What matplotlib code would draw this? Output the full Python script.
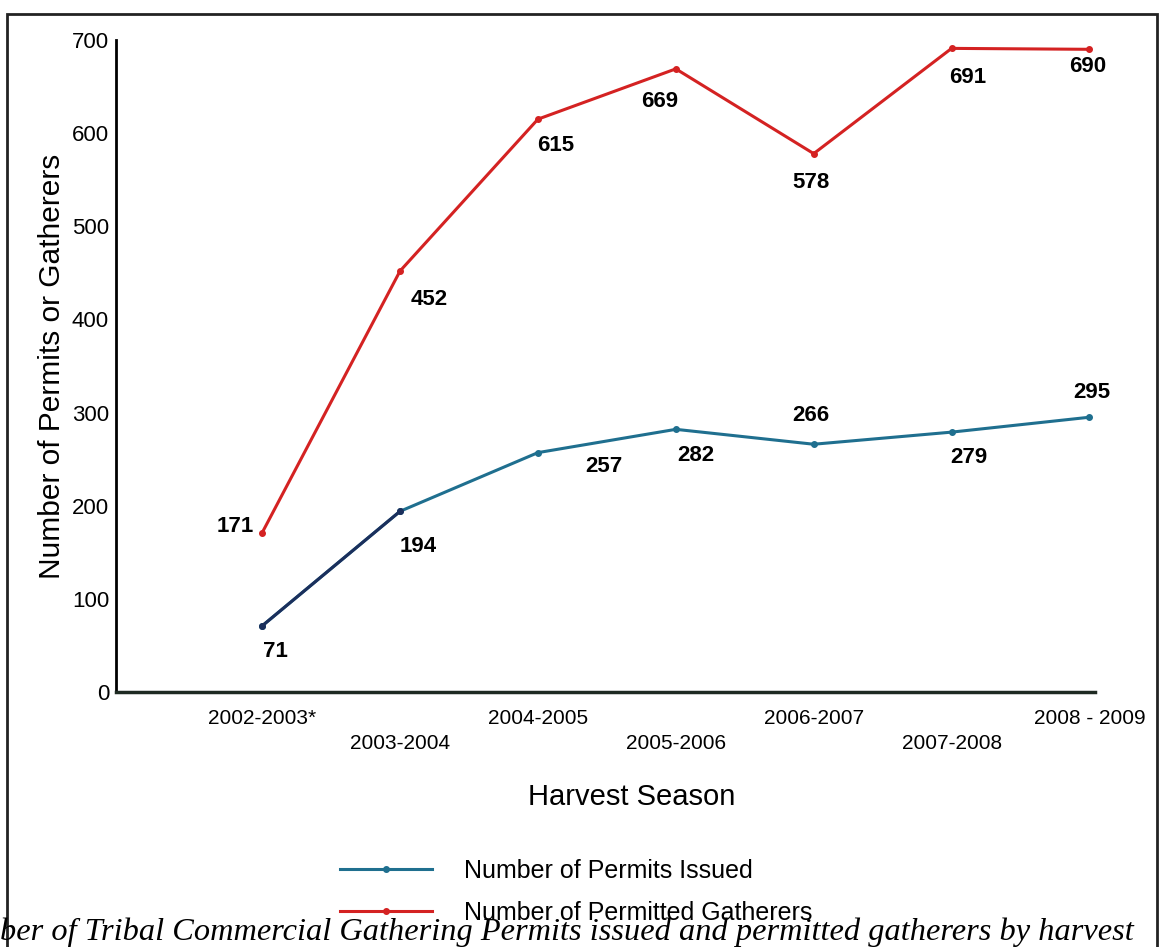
import matplotlib.pyplot as plt
from matplotlib.patches import Rectangle

plt.rcParams['font.family'] = ['Liberation Sans', 'DejaVu Sans']

seasons = ["2002-2003*", "2003-2004", "2004-2005", "2005-2006",
           "2006-2007", "2007-2008", "2008 - 2009"]
permits = [71, 194, 257, 282, 266, 279, 295]
gatherers = [171, 452, 615, 669, 578, 691, 690]

# label offsets in pixels (dx, dy)
permit_offsets = [(13, -26), (18, -35), (66, -14), (20, -26), (-3, 29), (17, -25), (2, 25)]
gatherer_offsets = [(-27, 6), (29, -29), (18, -26), (-16, -33), (-3, -29), (16, -29), (-2, -17)]

blue = "#1f6f8f"
navy = "#1b2f5c"
red = "#d42222"

fig = plt.figure(figsize=(11.65, 9.47), dpi=100)
ax = fig.add_axes([116 / 1165, 1 - 692 / 947, (1095 - 116) / 1165, (692 - 40) / 947])

x = list(range(len(seasons)))
l1, = ax.plot(x, permits, color=blue, lw=2.2, marker='o', ms=4)
ax.plot(x[:2], permits[:2], color=navy, lw=2.2, marker='o', ms=4)
l2, = ax.plot(x, gatherers, color=red, lw=2.2, marker='o', ms=4)

for xi, v, (dx, dy) in zip(x, permits, permit_offsets):
    ax.annotate(str(v), (xi, v), xytext=(dx, dy), textcoords='offset pixels',
                ha='center', va='center', fontsize=16, fontweight='bold')
for xi, v, (dx, dy) in zip(x, gatherers, gatherer_offsets):
    ax.annotate(str(v), (xi, v), xytext=(dx, dy), textcoords='offset pixels',
                ha='center', va='center', fontsize=16, fontweight='bold')

ax.set_xlim(-1.06, 6.04)
ax.set_ylim(0, 700)
ax.set_yticks(range(0, 701, 100))
ax.tick_params(axis='y', length=0, pad=5, labelsize=16)
ax.set_xticks(x)
ax.set_xticklabels([])
ax.tick_params(axis='x', length=0)
for i, s in enumerate(seasons):
    off = -26 if i % 2 == 0 else -51
    ax.annotate(s, (i, 0), xytext=(0, off), textcoords='offset pixels',
                ha='center', va='center', fontsize=15, annotation_clip=False)

for side in ['top', 'right']:
    ax.spines[side].set_visible(False)
ax.spines['left'].set_linewidth(2)
ax.spines['bottom'].set_linewidth(2.5)
ax.spines['bottom'].set_color('#1e2a22')

ax.set_ylabel("Number of Permits or Gatherers", fontsize=21.5, labelpad=4)
fig.text(632 / 1165, 1 - 797 / 947, "Harvest Season", ha='center', va='center', fontsize=21)

fig.legend([l1, l2], ["Number of Permits Issued", "Number of Permitted Gatherers"],
           loc='upper left', bbox_to_anchor=(322 / 1165, 1 - 841 / 947),
           frameon=False, fontsize=18, handlelength=3.7, handletextpad=1.3,
           labelspacing=0.72, numpoints=1, borderpad=0.2)

# scanned page border
fig.add_artist(Rectangle((7 / 1165, -0.1), (1157 - 7) / 1165, 1.1 - 14 / 947,
                         transform=fig.transFigure, fill=False, lw=2, ec='#222222'))

fig.text(0, 1 - 932 / 947,
         "ber of Tribal Commercial Gathering Permits issued and permitted gatherers by harvest",
         family=['Liberation Serif', 'DejaVu Serif'], style='italic',
         fontsize=23.3, ha='left', va='center')

fig.savefig("out.png", dpi=100)
